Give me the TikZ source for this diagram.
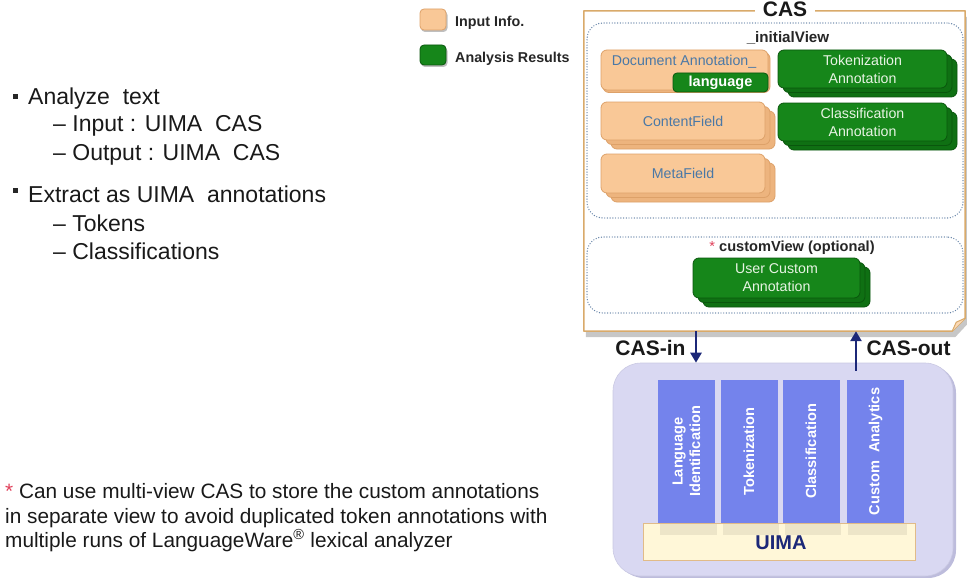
\documentclass[tikz,border=0pt]{standalone}
\usepackage{fontspec}
\setmainfont{Liberation Sans}
\usetikzlibrary{arrows.meta,calc}

\definecolor{peach}{HTML}{F9C897}
\definecolor{peachedge}{HTML}{DDA169}
\definecolor{peachback}{HTML}{EDB47E}
\definecolor{peachtext}{HTML}{4A78A6}
\definecolor{annogreen}{HTML}{16861A}
\definecolor{annoback}{HTML}{0F7013}
\definecolor{annoedge}{HTML}{0A560D}
\definecolor{annotext}{HTML}{E8F4E4}
\definecolor{casedge}{HTML}{D9AA6A}
\definecolor{viewdot}{HTML}{6684A8}
\definecolor{lavender}{HTML}{D9D8F2}
\definecolor{lavshade}{HTML}{BDBCDC}
\definecolor{column}{HTML}{7483EC}
\definecolor{cream}{HTML}{FFF7D8}
\definecolor{navy}{HTML}{1C2878}
\definecolor{starred}{HTML}{E0405A}

\tikzset{
  peachbox/.style={draw=peachedge, fill=peach, rounded corners=6pt, line width=0.8pt, text=peachtext},
  peachlayer/.style={draw=peachedge, fill=peachback, rounded corners=6pt, line width=0.8pt},
  greenbox/.style={draw=annoedge, fill=annogreen, rounded corners=6pt, line width=0.8pt, text=annotext},
  greenlayer/.style={draw=annoedge, fill=annoback, rounded corners=6pt, line width=0.8pt},
  boxfont/.style={font=\fontsize{14.2}{18}\selectfont, align=center},
  viewframe/.style={draw=viewdot, line width=1.4pt, dash pattern=on 0pt off 2.7pt, line cap=round, rounded corners=16pt},
  viewtitle/.style={font=\bfseries\fontsize{15.2}{17}\selectfont, text=black!85},
  colbox/.style={fill=column, draw=none, rotate=90, minimum width=143pt, minimum height=57pt, inner sep=0pt,
                 text=white, font=\bfseries\fontsize{14.6}{17.5}\selectfont, align=center},
  flowarrow/.style={draw=navy, line width=2.6pt, -{Triangle[width=11pt,length=10pt]}},
  flowlabel/.style={font=\bfseries\fontsize{21}{23}\selectfont, text=black!90},
  bodytext/.style={anchor=base west, inner sep=0pt, font=\fontsize{23}{26}\selectfont, text=black!90},
  notetext/.style={anchor=base west, inner sep=0pt, font=\fontsize{20.8}{24}\selectfont, text=black!90},
  legendtext/.style={anchor=base west, inner sep=0pt, font=\bfseries\fontsize{14.3}{16}\selectfont, text=black!85},
  bulletsq/.style={fill=black!85, minimum size=5.5pt, inner sep=0pt},
}

% name, front style, layer style, cx, cy, width, height, label
\newcommand\layered[8]{%
  \node (#1-b2) [#3, minimum width=#6pt, minimum height=#7pt] at (#4+10,#5+9) {};
  \node (#1-b1) [#3, minimum width=#6pt, minimum height=#7pt] at (#4+5,#5+4.5) {};
  \node (#1) [#2, boxfont, minimum width=#6pt, minimum height=#7pt] at (#4,#5) {#8};
}

\begin{document}
\begin{tikzpicture}[x=1pt,y=-1pt]
\useasboundingbox (0,0) rectangle (967,578);

% ---------- left column text ----------
\node (b1) [bulletsq] at (15.5,96.5) {};
\node (t1) [bodytext] at (28,104) {Analyze\ \ text};
\node (t2) [bodytext] at (53,131) {– Input : UIMA\ \ CAS};
\node (t3) [bodytext] at (53,160) {– Output : UIMA\ \ CAS};
\node (b2) [bulletsq] at (15.5,190.5) {};
\node (t4) [bodytext] at (28,202) {Extract as UIMA\ \ annotations};
\node (t5) [bodytext] at (53,231) {– Tokens};
\node (t6) [bodytext] at (53,259) {– Classifications};

\node (n1) [notetext] at (5,498) {{\color{starred}*} Can use multi-view CAS to store the custom annotations};
\node (n2) [notetext] at (5,523) {in separate view to avoid duplicated token annotations with};
\node (n3) [notetext] at (5,547) {multiple runs of LanguageWare\textsuperscript{®} lexical analyzer};

% ---------- legend ----------
\fill[black!25, rounded corners=4pt] (421,11) rectangle (447.5,32);
\node (leg-in) [peachbox, rounded corners=4pt, minimum width=26pt, minimum height=21pt, inner sep=0pt] at (433,19.5) {};
\fill[black!25, rounded corners=4pt] (421,47) rectangle (447.5,67);
\node (leg-out) [greenbox, rounded corners=4pt, minimum width=26pt, minimum height=20pt, inner sep=0pt] at (433,55) {};
\node (leg-in-t) [legendtext] at (455,26.5) {Input Info.};
\node (leg-out-t) [legendtext] at (455,62.5) {Analysis\ Results};

% ---------- CAS frame ----------
\node (cas) [minimum width=381pt, minimum height=320pt, inner sep=0pt] at (774.5,171) {};
\fill[black!22] ([xshift=2pt,yshift=-6pt]cas.north west) -- ([xshift=3pt,yshift=-6pt]cas.north east)
  -- ([xshift=3pt,yshift=8pt]cas.south east) -- ([xshift=-10pt,yshift=-6pt]cas.south east)
  -- ([xshift=2pt,yshift=-6pt]cas.south west) -- cycle;
\draw[casedge, fill=white, line width=1.5pt, line join=round]
  (cas.north west) -- (cas.north east) -- ([yshift=13pt]cas.south east)
  -- ([xshift=-13pt]cas.south east) -- (cas.south west) -- cycle;
\draw[casedge, fill=peach!70, line width=1pt, line join=round]
  ([yshift=13pt]cas.south east) -- ([xshift=-9pt,yshift=9pt]cas.south east) -- ([xshift=-13pt]cas.south east);
\node (cas-title) [fill=white, anchor=base, inner xsep=8pt, inner ysep=1pt,
  font=\bfseries\fontsize{21}{23}\selectfont, text=black!90] at (785,16.5) {CAS};

% ---------- initial view ----------
\node (initview) [viewframe, minimum width=376pt, minimum height=195pt, inner sep=0pt] at (775,120.5) {};
\node (initview-t) [viewtitle] at (788,38) {\_initialView};

\node (docann-b) [peachlayer, minimum width=167pt, minimum height=40pt] at (686.5,72.5) {};
\node (docann) [peachbox, minimum width=167pt, minimum height=40pt] at (684.5,70) {};
\node (docann-t) [boxfont, text=peachtext] at (684,62) {Document\ Annotation\_};
\node (lang) [greenbox, rounded corners=4pt, minimum width=95pt, minimum height=19pt, inner sep=0pt,
  font=\bfseries\fontsize{14.5}{16}\selectfont, text=white] at (720.5,82.5) {language};

\layered{tokann}{greenbox}{greenlayer}{862.5}{69}{169}{38}{Tokenization\\Annotation}
\layered{classann}{greenbox}{greenlayer}{862.5}{122}{169}{38}{Classification\\Annotation}
\layered{content}{peachbox}{peachlayer}{683}{121}{164}{38}{ContentField}
\layered{meta}{peachbox}{peachlayer}{683}{173.5}{164}{39}{MetaField}

% ---------- custom view ----------
\node (custview) [viewframe, minimum width=376pt, minimum height=76pt, inner sep=0pt] at (775,275) {};
\node (custview-t) [viewtitle, font=\bfseries\fontsize{14.6}{17}\selectfont] at (792,248) {{\color{starred}\mdseries*} customView (optional)};
\layered{userann}{greenbox}{greenlayer}{776.5}{278}{167}{40}{User Custom\\Annotation}

% ---------- UIMA engine ----------
\node (uima-sh) [fill=lavshade, rounded corners=28pt, minimum width=340pt, minimum height=213pt] at (786,471.5) {};
\node (uima) [fill=lavender, draw=lavshade!80, line width=0.6pt, rounded corners=28pt,
  minimum width=340pt, minimum height=213pt, inner sep=0pt] at (783,469.5) {};

\node (langid) [colbox] at (686.5,451.5) {Language\\Identification};
\node (tokcol) [colbox] at (749,451.5) {Tokenization};
\node (clscol) [colbox] at (811,451.5) {Classification};
\node (custcol) [colbox] at (875.5,451.5) {Custom\ \ Analytics};

\node (uimabar) [fill=cream, draw=casedge!80, line width=1pt, minimum width=272pt, minimum height=37pt,
  inner sep=0pt] at (779,541.5) {};
\foreach \cx/\w in {686.5/57, 749/56, 811/56, 875.5/59}
  \fill[black, opacity=0.07] (\cx-\w/2+2,524) rectangle (\cx+\w/2+2,535);
\node (uimabar-t) [font=\bfseries\fontsize{20}{22}\selectfont, text=navy] at (781,543) {UIMA};

% ---------- CAS flow ----------
\coordinate (inx) at (696,0);
\coordinate (outx) at (856,0);
\draw[flowarrow] (cas.south -| inx) -- (uima.north -| inx);
\draw[flowarrow] ([yshift=-8pt]uima.north -| outx) -- (cas.south -| outx);
\node (casin) [flowlabel, anchor=east] at (689,348) {CAS-in};
\node (casout) [flowlabel, anchor=west] at (863,348) {CAS-out};

\end{tikzpicture}
\end{document}
